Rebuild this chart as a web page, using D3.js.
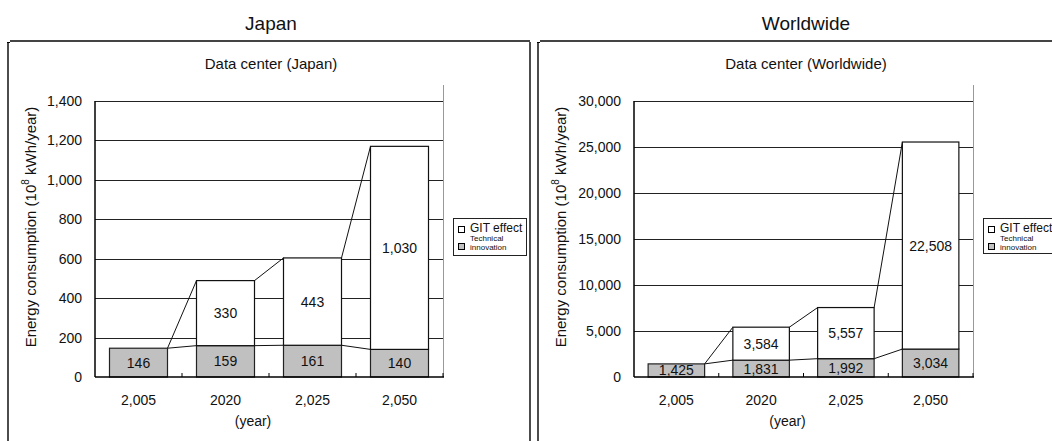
<!DOCTYPE html>
<html>
<head>
<meta charset="utf-8">
<script src="https://cdn.jsdelivr.net/npm/d3@7"></script>
<style>
  html, body { margin: 0; padding: 0; background: #fff; }
  svg { display: block; font-family: "Liberation Sans", Arial, sans-serif; }
</style>
</head>
<body>
<svg id="chart" width="1052" height="441"></svg>
<script>
// ---- data ----
const categories = ["2,005", "2020", "2,025", "2,050"];
const japanTech = [146, 159, 161, 140];      // Technical innovation
const japanGit = [0, 330, 443, 1030];        // GIT effect
const worldTech = [1425, 1831, 1992, 3034];
const worldGit = [0, 3584, 5557, 22508];
const japanTicks = [0, 200, 400, 600, 800, 1000, 1200, 1400];
const worldTicks = [0, 5000, 10000, 15000, 20000, 25000, 30000];
const legendLabels = ["GIT effect", "Technical", "innovation"];

const svg = d3.select("#chart");
const fmt = d3.format(",");

// ---- panel frames ----
function frame(xl, xr) {
  svg.append("line").attr("x1", xl + 2).attr("x2", xr).attr("y1", 41).attr("y2", 41)
    .attr("stroke", "#444").attr("stroke-width", 2);
  svg.append("line").attr("x1", xl - 1).attr("x2", xl + 2).attr("y1", 42.5).attr("y2", 42.5)
    .attr("stroke", "#000").attr("stroke-width", 1);
  svg.append("line").attr("x1", xl).attr("x2", xl).attr("y1", 42).attr("y2", 441)
    .attr("stroke", "#000").attr("stroke-width", 1.4);
}
frame(8, 530);
svg.append("line").attr("x1", 530).attr("x2", 530).attr("y1", 42).attr("y2", 441)
  .attr("stroke", "#000").attr("stroke-width", 1.4);
frame(538, 1052);

function panel(cfg) {
  const g = svg.append("g");
  const y = d3.scaleLinear().domain([0, cfg.max]).range([377, 101]);
  const x = d3.scaleBand().domain(categories).range([cfg.x0, cfg.x1])
    .paddingInner(1 / 3).paddingOuter(1 / 6);
  const step = x.step(), bw = x.bandwidth();

  // titles
  g.append("text").attr("x", cfg.cx).attr("y", 30).attr("text-anchor", "middle")
    .attr("font-size", 19).attr("fill", "#111").text(cfg.title);
  g.append("text").attr("x", cfg.cx).attr("y", 69).attr("text-anchor", "middle")
    .attr("font-size", 15).attr("fill", "#111").text(cfg.sub);

  // gridlines
  g.selectAll(".grid").data(cfg.ticks.slice(1)).join("line")
    .attr("x1", cfg.x0).attr("x2", cfg.x1)
    .attr("y1", d => Math.round(y(d)) + 0.5).attr("y2", d => Math.round(y(d)) + 0.5)
    .attr("stroke", "#222").attr("stroke-width", 1);

  // plot right border
  g.append("line").attr("x1", cfg.x1 + 0.5).attr("x2", cfg.x1 + 0.5).attr("y1", 85).attr("y2", 377)
    .attr("stroke", "#999").attr("stroke-width", 1);

  // y tick labels
  g.selectAll(".yt").data(cfg.ticks).join("text")
    .attr("x", cfg.x0 - 13).attr("y", d => y(d)).attr("dy", "0.36em")
    .attr("text-anchor", "end").attr("font-size", 14).attr("fill", "#111")
    .text(d => fmt(d));

  // y label
  const yl = g.append("text").attr("transform", `translate(${cfg.ylx},227) rotate(-90)`)
    .attr("text-anchor", "middle").attr("font-size", 15).attr("fill", "#111");
  yl.append("tspan").text("Energy consumption (10");
  yl.append("tspan").attr("font-size", 10).attr("dy", -7).text("8");
  yl.append("tspan").attr("dy", 7).text(" kWh/year)");

  const totals = cfg.tech.map((t, i) => t + cfg.git[i]);

  // series lines
  for (let i = 0; i < categories.length - 1; i++) {
    const xa = x(categories[i]) + bw, xb = x(categories[i + 1]);
    g.append("line").attr("x1", xa).attr("x2", xb)
      .attr("y1", y(totals[i])).attr("y2", y(totals[i + 1]))
      .attr("stroke", "#111").attr("stroke-width", 1);
    g.append("line").attr("x1", xa).attr("x2", xb)
      .attr("y1", y(cfg.tech[i])).attr("y2", y(cfg.tech[i + 1]))
      .attr("stroke", "#111").attr("stroke-width", 1);
  }

  // grey bars (technical innovation)
  g.selectAll(".tb").data(categories).join("rect")
    .attr("x", d => x(d)).attr("width", bw)
    .attr("y", (d, i) => y(cfg.tech[i])).attr("height", (d, i) => y(0) - y(cfg.tech[i]))
    .attr("fill", "#c0c0c0").attr("stroke", "#222").attr("stroke-width", 1.2);
  // white bars (GIT effect)
  g.selectAll(".gb").data(categories.filter((d, i) => cfg.git[i] > 0)).join("rect")
    .attr("x", d => x(d)).attr("width", bw)
    .attr("y", d => y(totals[categories.indexOf(d)]))
    .attr("height", d => { const i = categories.indexOf(d); return y(cfg.tech[i]) - y(totals[i]); })
    .attr("fill", "#fff").attr("stroke", "#111").attr("stroke-width", 1.2);

  // labels
  g.selectAll(".tl").data(categories).join("text")
    .attr("x", d => x(d) + bw / 2)
    .attr("y", (d, i) => (y(0) + y(cfg.tech[i])) / 2).attr("dy", "0.36em")
    .attr("text-anchor", "middle").attr("font-size", 14).attr("fill", "#111")
    .text((d, i) => fmt(cfg.tech[i]));
  g.selectAll(".gl").data(categories.filter((d, i) => cfg.git[i] > 0)).join("text")
    .attr("x", d => x(d) + bw / 2)
    .attr("y", d => { const i = categories.indexOf(d); return (y(cfg.tech[i]) + y(totals[i])) / 2; })
    .attr("dy", "0.36em")
    .attr("text-anchor", "middle").attr("font-size", 14).attr("fill", "#111")
    .text(d => fmt(cfg.git[categories.indexOf(d)]));

  // x axis
  g.append("line").attr("x1", cfg.x0).attr("x2", cfg.x1 + 1).attr("y1", 377).attr("y2", 377)
    .attr("stroke", "#000").attr("stroke-width", 1.5);
  g.append("line").attr("x1", cfg.x0).attr("x2", cfg.x0).attr("y1", 101).attr("y2", 377)
    .attr("stroke", "#000").attr("stroke-width", 1.5);
  const bounds = categories.map(d => x(d) - (step - bw) / 2).concat([cfg.x1]);
  g.selectAll(".xt").data(bounds.slice(1)).join("line")
    .attr("x1", d => d).attr("x2", d => d).attr("y1", 373).attr("y2", 377)
    .attr("stroke", "#000").attr("stroke-width", 1);
  g.selectAll(".xl").data(categories).join("text")
    .attr("x", d => x(d) + bw / 2).attr("y", 405)
    .attr("text-anchor", "middle").attr("font-size", 14).attr("fill", "#111").text(d => d);
  g.append("text").attr("x", (cfg.x0 + cfg.x1) / 2 - 16).attr("y", 426)
    .attr("text-anchor", "middle").attr("font-size", 14).attr("fill", "#111").text("(year)");

  // legend
  const L = cfg.leg;
  g.append("rect").attr("x", L.x + 0.5).attr("y", L.y + 0.5).attr("width", L.w).attr("height", L.h)
    .attr("fill", "#fff").attr("stroke", "#222").attr("stroke-width", 1);
  g.append("rect").attr("x", L.x + 5.5).attr("y", L.y + 8.5).attr("width", 6).attr("height", 6)
    .attr("fill", "#fff").attr("stroke", "#000").attr("stroke-width", 1);
  g.append("rect").attr("x", L.x + 5.5).attr("y", L.y + 25.5).attr("width", 6).attr("height", 6)
    .attr("fill", "#c0c0c0").attr("stroke", "#000").attr("stroke-width", 1);
  g.append("text").attr("x", L.x + 17).attr("y", L.y + 14).attr("font-size", 12).attr("fill", "#111")
    .text(legendLabels[0]);
  g.append("text").attr("x", L.x + 17).attr("y", L.y + 23).attr("font-size", 8).attr("fill", "#111")
    .text(legendLabels[1]);
  g.append("text").attr("x", L.x + 17).attr("y", L.y + 32).attr("font-size", 8).attr("fill", "#111")
    .text(legendLabels[2]);
}

panel({
  title: "Japan", sub: "Data center (Japan)", cx: 271,
  x0: 95, x1: 443, max: 1400, ticks: japanTicks,
  tech: japanTech, git: japanGit, ylx: 36,
  leg: { x: 453, y: 218, w: 73, h: 37 }
});
panel({
  title: "Worldwide", sub: "Data center (Worldwide)", cx: 806,
  x0: 634, x1: 973, max: 30000, ticks: worldTicks,
  tech: worldTech, git: worldGit, ylx: 566,
  leg: { x: 983, y: 218, w: 80, h: 35 }
});
</script>
</body>
</html>
